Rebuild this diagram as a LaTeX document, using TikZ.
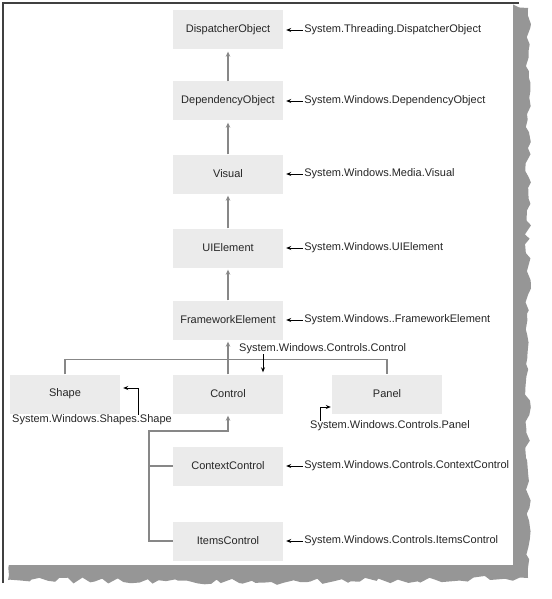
\documentclass[tikz,border=0pt]{standalone}
\usepackage{fontspec}
\setmainfont{Liberation Sans}
\usetikzlibrary{arrows.meta, positioning, calc, decorations.pathmorphing}
\definecolor{boxgray}{RGB}{235,235,235}
\definecolor{linegray}{RGB}{135,135,135}
\definecolor{shadowgray}{RGB}{150,150,150}

\begin{document}
\begin{tikzpicture}[x=1pt, y=-1pt, font=\fontsize{11}{13}\selectfont, text=black!85,
    cls/.style={fill=boxgray, minimum width=110pt, minimum height=39pt, inner sep=0pt},
    inh/.style={draw=linegray, line width=1.3pt, -{Stealth[length=5pt,width=4.5pt]}, shorten >=2pt},
    bar/.style={draw=linegray, line width=1.3pt},
    ref/.style={draw=black, line width=0.8pt, -{Stealth[length=5pt,width=4pt]}},
    lbl/.style={inner sep=0pt, anchor=west}]
    \useasboundingbox (0,0) rectangle (551,599);

    % Rahmen mit Schatten
    \pgfmathsetseed{7}
    \fill[shadowgray, decorate, decoration={random steps, segment length=7pt, amplitude=3pt}]
        (505,3) -- (528,8) -- (528,578) -- (300,582) -- (8,580) -- (8,555) -- (505,555) -- cycle;
    \fill[white] (3,3) rectangle (513,565);
    \draw[line width=1.2pt, black!75] (3,583) -- (3,3) -- (519,3);

    % Klassen
    \foreach \n/\t/\y in {disp/DispatcherObject/30, dep/DependencyObject/101, vis/Visual/174,
                          uie/UIElement/248, fwe/FrameworkElement/320, ctl/Control/394,
                          ctx/ContextControl/466, itc/ItemsControl/541} {
        \node[cls] (\n) at (228,\y) {\t};
    }
    \node[cls] (shp) at (65,394) {Shape};
    \node[cls] (pnl) at (387,394) {Panel};

    % Vererbung
    \foreach \a/\b in {dep/disp, vis/dep, uie/vis, fwe/uie, ctl/fwe} {
        \draw[inh] (\a) -- (\b);
    }
    \draw[bar] (shp.north) -- ++(0,-15) -| (pnl.north);
    \coordinate (br) at (149,431);
    \draw[inh] (itc.west) -| (br) -| (ctl.south);
    \draw[bar] (ctx.west) -- (ctx.west -| br);

    % Namensräume
    \foreach \n/\t in {disp/System.Threading.DispatcherObject, dep/System.Windows.DependencyObject,
                       vis/System.Windows.Media.Visual, uie/System.Windows.UIElement,
                       fwe/System.Windows..FrameworkElement, ctx/System.Windows.Controls.ContextControl,
                       itc/System.Windows.Controls.ItemsControl} {
        \node[lbl, right=21pt of \n] (\n-l) {\t};
        \draw[ref] ([xshift=-1pt]\n-l.west) -- ([xshift=3pt]\n.east);
    }

    \node[inner sep=0pt] (shp-l) at (92,420) {System.Windows.Shapes.Shape};
    \draw[ref] ([xshift=46pt]shp-l.north) |- ([xshift=3pt, yshift=6pt]shp.east);

    \node[lbl] (pnl-l) at (310,426) {System.Windows.Controls.Panel};
    \draw[ref] ([xshift=10pt]pnl-l.north west) |- ([xshift=-1pt, yshift=-13pt]pnl.west);

    \node[lbl] (ctl-l) at (239,349) {System.Windows.Controls.Control};
    \draw[ref] ([xshift=24pt]ctl-l.south west) -- ([xshift=35pt, yshift=2pt]ctl.north);
\end{tikzpicture}
\end{document}
